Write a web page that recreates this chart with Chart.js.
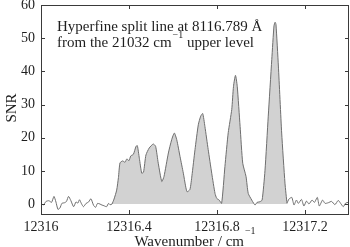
<!DOCTYPE html>
<html>
<head>
<meta charset="utf-8">
<script src="https://cdn.jsdelivr.net/npm/chart.js@4/dist/chart.umd.min.js"></script>
<style>
html,body{margin:0;padding:0;background:#fff;}
#wrap{position:relative;width:350px;height:247px;}
</style>
</head>
<body>
<div id="wrap"><canvas id="c" width="350" height="247"></canvas></div>
<script>
// ---- data ----
const noiseLeftX = [12316.000,12316.011,12316.023,12316.036,12316.048,12316.059,12316.068,12316.077,12316.086,12316.095,12316.107,12316.116,12316.125,12316.136,12316.148,12316.159,12316.168,12316.175,12316.184,12316.193,12316.205,12316.216,12316.227,12316.239,12316.248,12316.257,12316.268,12316.277,12316.286,12316.298,12316.307,12316.314,12316.323];
const noiseLeftY = [0.3,-0.3,0.8,1.0,0.5,2.3,0.6,-1.6,-1.2,0.2,0.4,0.8,2.3,1.0,-0.8,0.6,0.3,1.3,0.1,-0.8,0.2,0.6,1.6,-0.4,-1.0,0.2,0.0,-0.3,-0.5,-0.8,0.2,-0.2,0.0];

const signalX = [12316.323,12316.332,12316.344,12316.352,12316.359,12316.371,12316.382,12316.390,12316.400,12316.408,12316.420,12316.432,12316.438,12316.447,12316.458,12316.466,12316.477,12316.492,12316.510,12316.521,12316.533,12316.549,12316.559,12316.579,12316.594,12316.606,12316.617,12316.632,12316.647,12316.657,12316.664,12316.677,12316.686,12316.700,12316.715,12316.726,12316.735,12316.745,12316.760,12316.776,12316.791,12316.799,12316.810,12316.821,12316.836,12316.851,12316.867,12316.875,12316.884,12316.892,12316.905,12316.917,12316.932,12316.942,12316.958,12316.966,12316.973,12316.982,12316.995,12317.005,12317.018,12317.033,12317.049,12317.059,12317.064,12317.068,12317.079,12317.094,12317.109,12317.118];
const signalY = [0.0,1.5,4.2,8.0,12.4,13.0,12.6,13.6,13.1,14.5,15.0,17.4,17.6,13.8,9.3,9.6,14.8,16.9,18.1,17.4,12.3,6.8,8.3,15.4,19.4,21.4,19.4,14.3,9.3,5.5,3.7,4.4,8.5,16.4,23.9,26.5,27.3,23.4,16.4,9.3,3.2,1.7,1.2,0.2,11.3,21.5,28.5,35.5,38.8,35.5,23.4,12.3,8.3,3.2,1.2,0.3,-0.3,0.5,0.7,1.2,10.0,26.5,43.6,53.7,54.8,54.2,41.6,21.4,6.3,0.2];

const noiseRightX = [12317.118,12317.127,12317.140,12317.150,12317.161,12317.170,12317.184,12317.195,12317.207,12317.218,12317.232,12317.243,12317.256,12317.265,12317.280,12317.291,12317.306,12317.321,12317.336,12317.351,12317.362,12317.374,12317.385,12317.397];
const noiseRightY = [0.2,1.5,2.0,-0.3,1.2,0.2,1.4,-0.6,0.9,0.0,1.2,0.5,2.0,-0.6,1.2,0.2,0.4,0.8,-0.2,1.1,0.2,-0.8,0.3,0.5];

const xTickValues = [12316, 12316.4, 12316.8, 12317.2];
const xTickLabels = ['12316', '12316.4', '12316.8', '12317.2'];
const yTickValues = [0, 10, 20, 30, 40, 50, 60];
const yTickLabels = ['0', '10', '20', '30', '40', '50', '60'];

const xTitle = 'Wavenumber / cm';
const yTitle = 'SNR';
const noteLine1 = 'Hyperfine split line at 8116.789 Å';
const noteLine2a = 'from the 21032 cm';
const noteLine2b = ' upper level';
const supText = '\u22121';

// ---- build ----
const pts = (xs, ys) => xs.map((x, i) => ({x: x, y: ys[i]}));
const SERIF = '"Liberation Serif", "DejaVu Serif", serif';
const lineColor = '#6e6e6e';
const textColor = '#1e1e1e';

const framePlugin = {
  id: 'frame',
  afterDraw(chart) {
    const {ctx, chartArea: a, scales: {x, y}} = chart;
    ctx.save();
    ctx.strokeStyle = '#3a3a3a';
    ctx.lineWidth = 1;
    ctx.strokeRect(Math.round(a.left) + 0.5, Math.round(a.top) + 0.5, Math.round(a.right - a.left) - 1, Math.round(a.bottom - a.top));
    const tl = 4;
    ctx.beginPath();
    xTickValues.forEach(v => {
      const px = Math.round(x.getPixelForValue(v)) + 0.5;
      ctx.moveTo(px, a.bottom); ctx.lineTo(px, a.bottom - tl);
      ctx.moveTo(px, a.top); ctx.lineTo(px, a.top + tl);
    });
    yTickValues.forEach(v => {
      const py = Math.round(y.getPixelForValue(v)) + 0.5;
      ctx.moveTo(a.left, py); ctx.lineTo(a.left + tl, py);
      ctx.moveTo(a.right, py); ctx.lineTo(a.right - tl, py);
    });
    ctx.stroke();

    ctx.fillStyle = textColor;
    ctx.textBaseline = 'alphabetic';
    ctx.textAlign = 'left';
    // annotation
    ctx.font = '15px ' + SERIF;
    ctx.fillText(noteLine1, 57, 30.5);
    ctx.fillText(noteLine2a, 57, 46.5);
    let w = ctx.measureText(noteLine2a).width;
    ctx.font = '10px ' + SERIF;
    ctx.fillText(supText, 57 + w + 1, 38);
    let ws = ctx.measureText(supText).width;
    ctx.font = '15px ' + SERIF;
    ctx.fillText(noteLine2b, 57 + w + 1 + ws, 46.5);

    // x title
    ctx.font = '15px ' + SERIF;
    const tw = ctx.measureText(xTitle).width;
    ctx.font = '10px ' + SERIF;
    const sw = ctx.measureText(supText).width;
    const total = tw + 1 + sw;
    const cx = (a.left + a.right) / 2;
    const sx = cx - total / 2;
    ctx.font = '15px ' + SERIF;
    ctx.fillText(xTitle, sx, 245.5);
    ctx.font = '10px ' + SERIF;
    ctx.fillText(supText, sx + tw + 1, 234);

    // y title
    ctx.save();
    ctx.translate(16, 108);
    ctx.rotate(-Math.PI / 2);
    ctx.font = '15px ' + SERIF;
    ctx.textAlign = 'center';
    ctx.fillText(yTitle, 0, 0);
    ctx.restore();
    ctx.restore();
  }
};

new Chart(document.getElementById('c'), {
  type: 'line',
  data: {
    datasets: [
      {data: pts(signalX, signalY), borderColor: lineColor, borderWidth: 1, backgroundColor: '#d2d2d2', fill: 'origin', pointRadius: 0, tension: 0.2},
      {data: pts(noiseLeftX, noiseLeftY), borderColor: lineColor, borderWidth: 1, fill: false, pointRadius: 0, tension: 0.2},
      {data: pts(noiseRightX, noiseRightY), borderColor: lineColor, borderWidth: 1, fill: false, pointRadius: 0, tension: 0.2}
    ]
  },
  options: {
    responsive: false,
    animation: false,
    events: [],
    layout: {padding: {top: 5, right: 1, left: 0, bottom: 0}},
    plugins: {legend: {display: false}, tooltip: {enabled: false}},
    scales: {
      x: {
        type: 'linear', min: 12316, max: 12317.4,
        grid: {display: false, drawTicks: false},
        border: {display: false},
        afterBuildTicks: s => { s.ticks = xTickValues.map(v => ({value: v})); },
        afterFit: s => { s.height = 33; s.paddingLeft = 0; s.paddingRight = 0; },
        ticks: {
          padding: 5, color: textColor, maxRotation: 0, autoSkip: false,
          font: {family: SERIF, size: 14},
          callback: (v) => { const i = xTickValues.findIndex(t => Math.abs(t - v) < 1e-6); return i >= 0 ? xTickLabels[i] : ''; }
        }
      },
      y: {
        min: -3, max: 60,
        grid: {display: false, drawTicks: false},
        border: {display: false},
        afterBuildTicks: s => { s.ticks = yTickValues.map(v => ({value: v})); },
        afterFit: s => { s.width = 41; s.paddingTop = 0; s.paddingBottom = 0; },
        ticks: {
          padding: 6, color: textColor,
          font: {family: SERIF, size: 14},
          callback: (v) => { const i = yTickValues.indexOf(v); return i >= 0 ? yTickLabels[i] : ''; }
        }
      }
    }
  },
  plugins: [framePlugin]
});
</script>
</body>
</html>
